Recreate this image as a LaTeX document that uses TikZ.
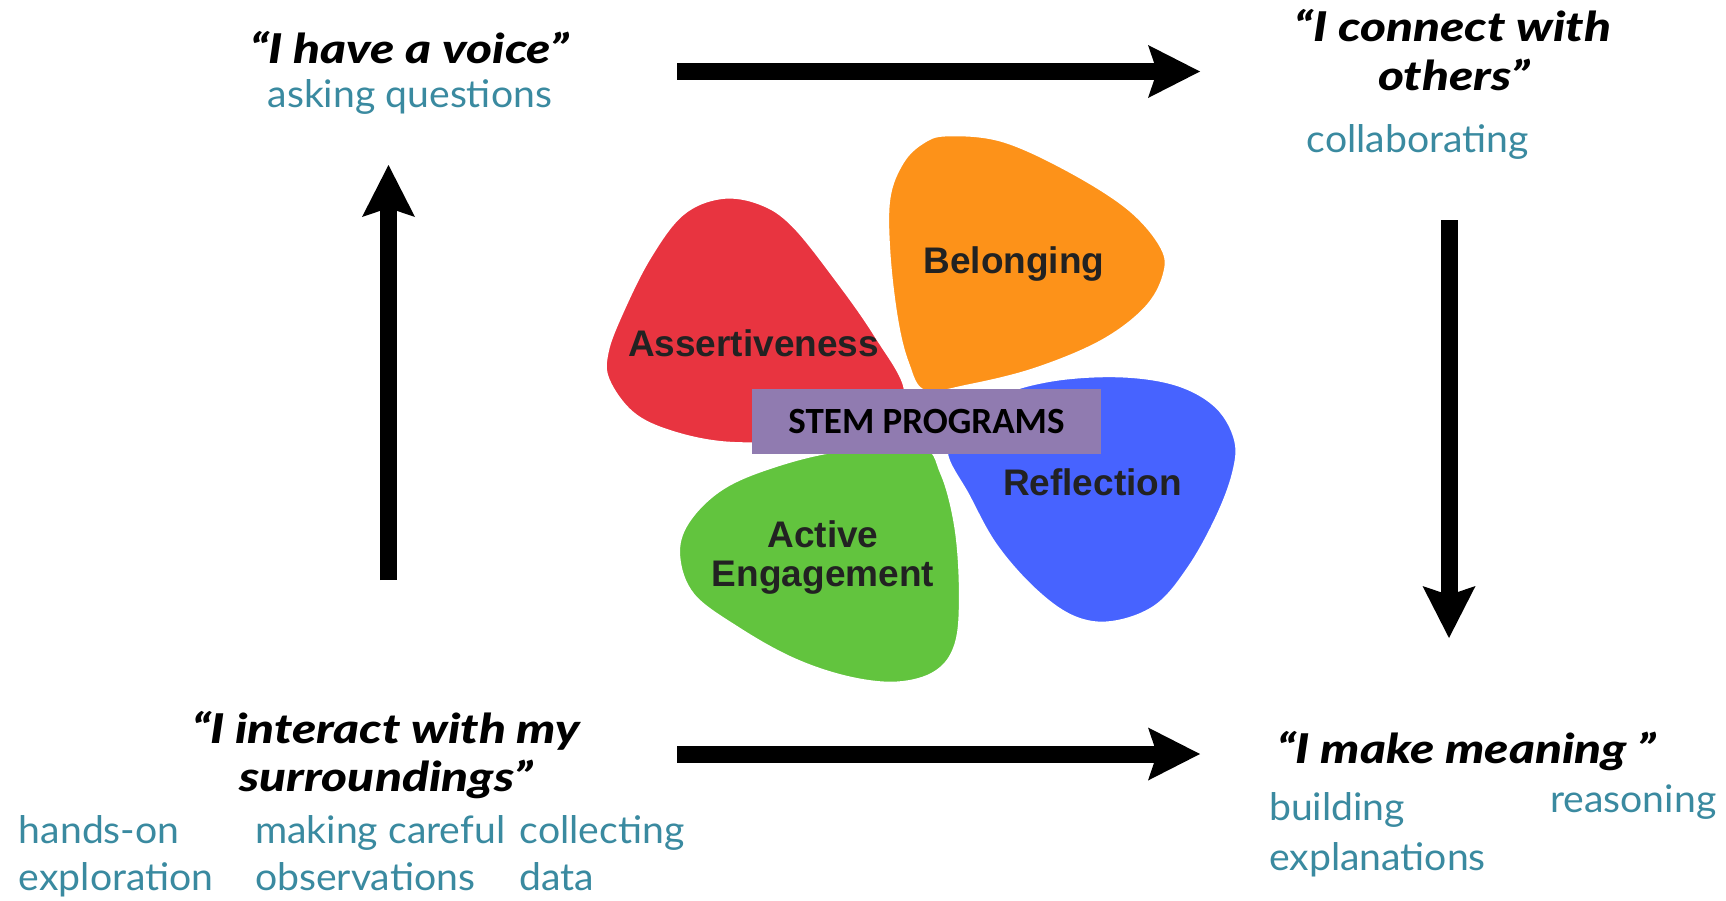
\documentclass[tikz,border=0pt]{standalone}
\usepackage{fontspec}
\setmainfont{Lato}
\newfontfamily\hdrfont{Lato}[BoldItalicFont={Lato Black Italic}, FakeStretch=1.21]
\newfontfamily\tealfont{Lato}[FakeStretch=1.03]
\newfontfamily\petalfont{Liberation Sans}
\newfontfamily\stemfont{Carlito}
\usetikzlibrary{arrows.meta}
\definecolor{tealtxt}{RGB}{58,138,160}
\definecolor{petalred}{RGB}{232,52,64}
\definecolor{petalorange}{RGB}{253,146,25}
\definecolor{petalblue}{RGB}{71,99,255}
\definecolor{petalgreen}{RGB}{98,196,62}
\definecolor{stempurple}{RGB}{144,123,176}
\definecolor{labeldark}{RGB}{34,34,34}
\begin{document}
\begin{tikzpicture}[x=1pt,y=-1pt,
  hdr/.style={inner sep=0, anchor=base, font=\hdrfont\bfseries\itshape\fontsize{41}{48}\selectfont},
  tealtext/.style={inner sep=0, anchor=base west, text=tealtxt, font=\tealfont\fontsize{38}{44}\selectfont},
  petallabel/.style={inner sep=0, anchor=base, text=labeldark, font=\petalfont\bfseries\fontsize{37}{42}\selectfont},
  bigarrow/.style={line width=17pt, -{Stealth[length=52pt,width=53pt,inset=9pt,line width=0pt]}},
  petal/.style={draw=white, line width=2pt}
]
\useasboundingbox (0,0) rectangle (1726,900);
\fill[white] (0,0) rectangle (1726,900);

% petals (coordinates given at 1568-wide scale)
\begin{scope}[scale=1.1008]
\fill[petal, fill=petalred] plot[smooth cycle, tension=0.6] coordinates {
 (655,180) (690,185) (720,205) (760,255) (795,305) (822,355) (800,385) (720,400)
 (660,402) (610,392) (575,375) (553,345) (552,320) (565,285) (590,235) (620,195)};
\fill[petal, fill=petalorange] plot[smooth cycle, tension=0.6] coordinates {
 (860,123) (910,128) (970,155) (1025,190) (1055,225) (1057,250) (1040,280) (1000,310)
 (940,335) (880,350) (840,355) (825,330) (815,290) (808,230) (808,180) (820,148) (838,130)};
\fill[petal, fill=petalblue] plot[smooth cycle, tension=0.6] coordinates {
 (960,345) (1020,342) (1070,350) (1105,370) (1122,400) (1120,430) (1105,470) (1080,515)
 (1050,550) (1010,565) (975,560) (940,535) (905,495) (880,450) (860,410) (875,380) (910,358)};
\fill[petal, fill=petalgreen] plot[smooth cycle, tension=0.6] coordinates {
 (835,405) (855,430) (868,480) (872,540) (868,585) (850,610) (815,620) (770,615)
 (720,598) (670,570) (630,540) (617,505) (625,475) (655,445) (700,425) (760,410)};
\end{scope}

\node[petallabel] (belong) at (1014,273) {Belonging};
\node[petallabel] (assert) at (753.5,356) {Assertiveness};
\node[petallabel] (reflect) at (1092.5,495) {Reflection};
\node[petallabel] (active) at (823,547) {Active};
\node[petallabel] (engage) at (823,586) {Engagement};

\node[fill=stempurple, minimum width=349pt, minimum height=65pt, inner sep=0,
      font=\stemfont\bfseries\fontsize{37}{42}\selectfont] (stem) at (926.5,421.5) {STEM PROGRAMS};

% headers
\node[hdr] (voice) at (409.5,63) {“I have a voice”};
\node[tealtext] (asking) at (267.5,107) {asking questions};

\node[hdr] (connect1) at (1453,41) {“I connect with};
\node[hdr] (connect2) at (1454,90) {others”};
\node[tealtext] (collab) at (1306.6,152) {collaborating};

\node[hdr] (interact1) at (386,743) {“I interact with my};
\node[hdr] (interact2) at (386,791) {surroundings”};
\node[tealtext] (hands) at (18.7,843) {hands-on};
\node[tealtext] (explor) at (18.7,890) {exploration};
\node[tealtext] (making) at (255,843) {making careful};
\node[tealtext] (observ) at (255,890) {observations};
\node[tealtext] (collect) at (519.6,843) {collecting};
\node[tealtext] (data) at (519.6,890) {data};

\node[hdr, anchor=base west] (meaning) at (1277,763) {“I make meaning ”};
\node[tealtext] (building) at (1269,820) {building};
\node[tealtext] (explan) at (1269,870) {explanations};
\node[tealtext] (reason) at (1550,812) {reasoning};

% arrows
\coordinate (topS) at (677,71.5);
\coordinate (topE) at (1200,71.5);
\coordinate (rightS) at (1449,220);
\coordinate (rightE) at (1449,638);
\coordinate (botS) at (677,754);
\coordinate (botE) at (1200,754);
\coordinate (leftS) at (388.5,580);
\coordinate (leftE) at (388.5,165);
\draw[bigarrow] (topS) -- (topE);
\draw[bigarrow] (rightS) -- (rightE);
\draw[bigarrow] (botS) -- (botE);
\draw[bigarrow] (leftS) -- (leftE);
\end{tikzpicture}
\end{document}
